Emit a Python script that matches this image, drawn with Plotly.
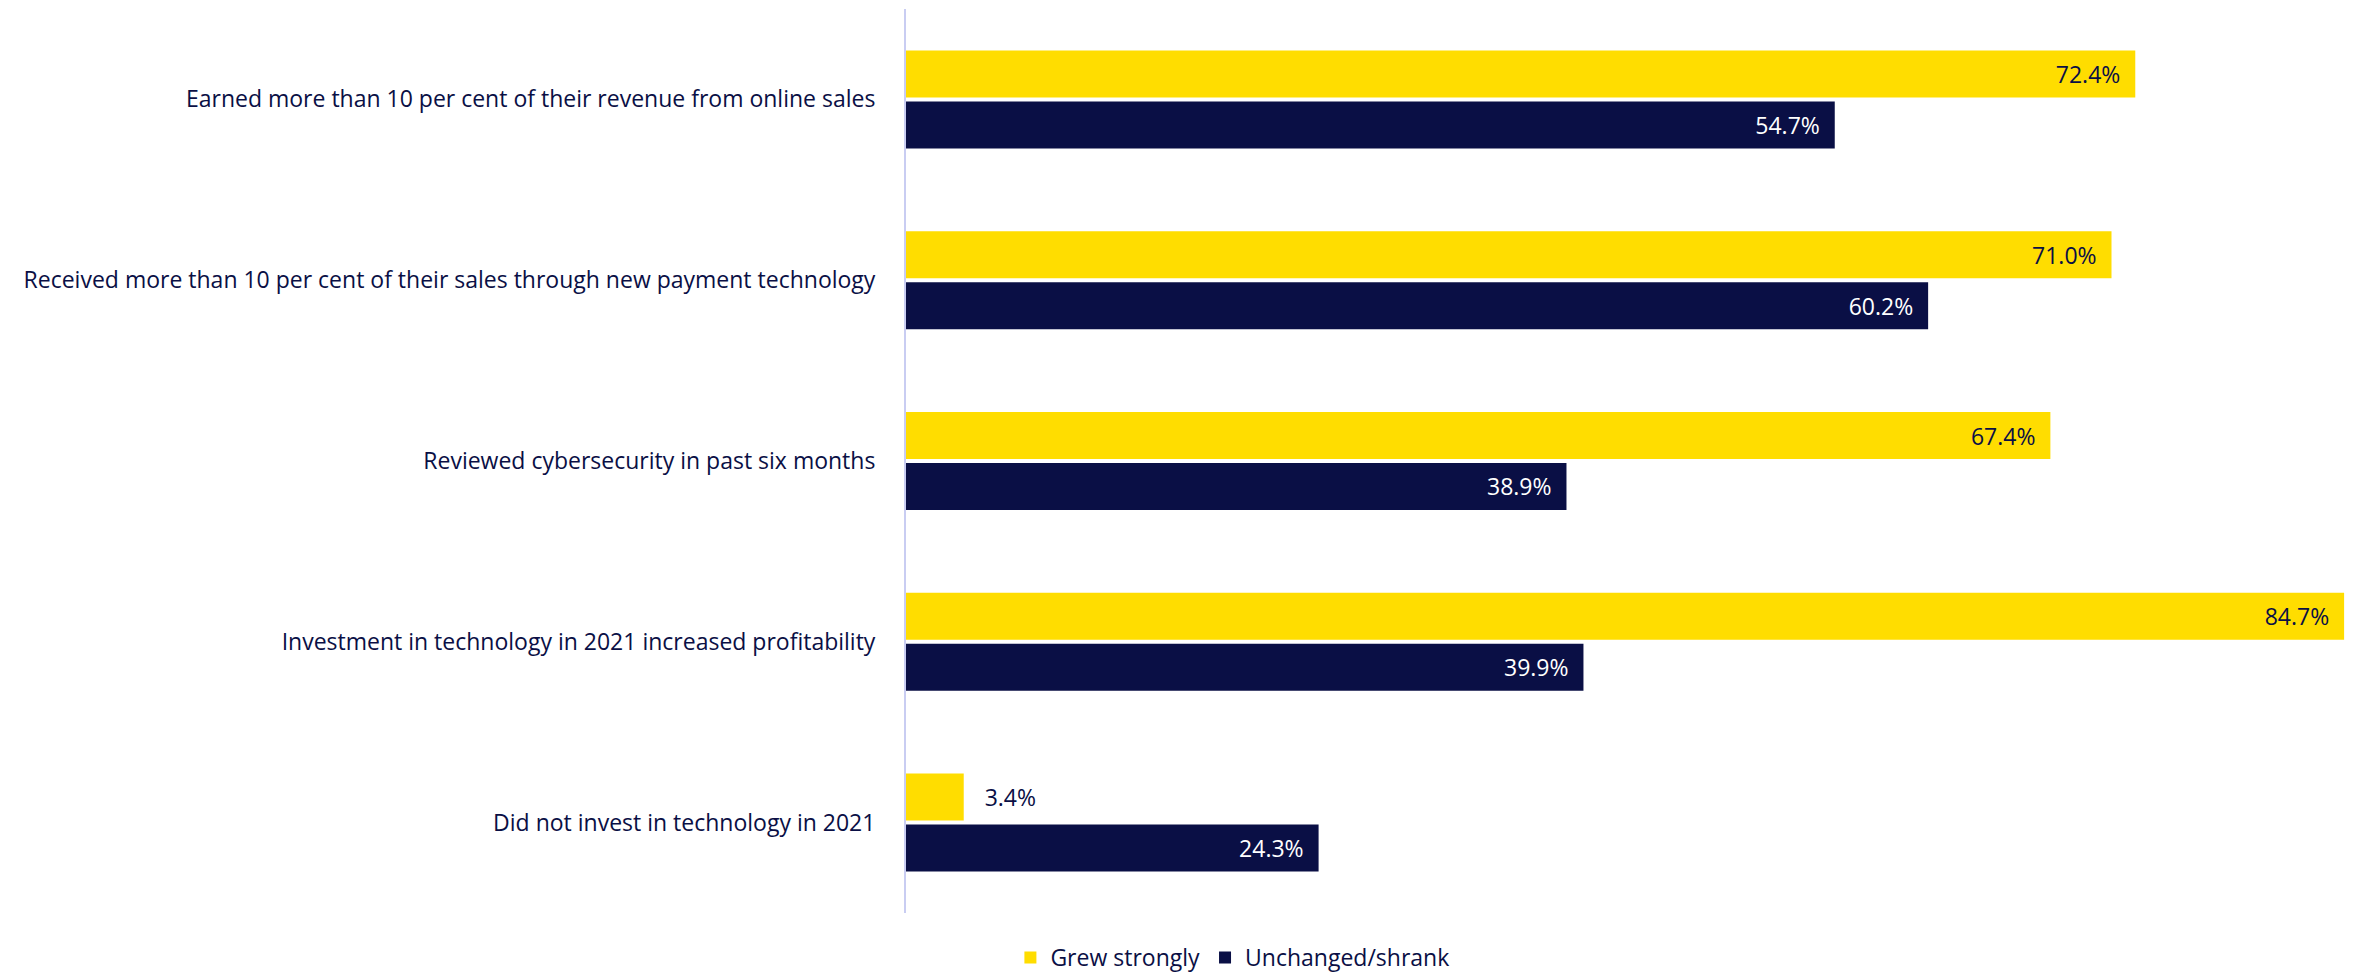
import plotly.graph_objects as go

# Survey categories (top to bottom)
categories = [
    "Earned more than 10 per cent of their revenue from online sales",
    "Received more than 10 per cent of their sales through new payment technology",
    "Reviewed cybersecurity in past six months",
    "Investment in technology in 2021 increased profitability",
    "Did not invest in technology in 2021",
]

grew_strongly = [72.4, 71.0, 67.4, 84.7, 3.4]
unchanged_shrank = [54.7, 60.2, 38.9, 39.9, 24.3]

YELLOW = "#FFDD00"
NAVY = "#0A0F45"
FONT = "Open Sans"
FS = 23

def labels(values, inside_min=10):
    out, pos = [], []
    for v in values:
        if v >= inside_min:
            out.append(f"{v:.1f}%\u00a0\u00a0")
            pos.append("inside")
        else:
            out.append(f"\u00a0\u00a0\u00a0{v:.1f}%")
            pos.append("outside")
    return out, pos

g_text, g_pos = labels(grew_strongly)
u_text, u_pos = labels(unchanged_shrank)

fig = go.Figure()
fig.add_trace(go.Bar(
    name="Grew strongly", y=categories, x=grew_strongly, orientation="h",
    marker=dict(color=YELLOW, line=dict(width=0)),
    text=g_text, textposition=g_pos, insidetextanchor="end",
    insidetextfont=dict(color=NAVY, size=FS, family=FONT),
    outsidetextfont=dict(color=NAVY, size=FS, family=FONT),
    cliponaxis=False,
))
fig.add_trace(go.Bar(
    name="Unchanged/shrank", y=categories, x=unchanged_shrank, orientation="h",
    marker=dict(color=NAVY, line=dict(width=0)),
    text=u_text, textposition=u_pos, insidetextanchor="end",
    insidetextfont=dict(color="white", size=FS, family=FONT),
    outsidetextfont=dict(color=NAVY, size=FS, family=FONT),
    cliponaxis=False,
))

fig.update_layout(
    width=2356, height=979,
    margin=dict(l=906, r=0, t=9, b=66, autoexpand=False),
    paper_bgcolor="white", plot_bgcolor="white",
    barmode="group", bargap=0.436, bargroupgap=0.078,
    font=dict(family=FONT, size=FS, color=NAVY),
    uniformtext=dict(minsize=FS, mode="show"),
    showlegend=True,
    legend=dict(
        orientation="h", x=0.072, xanchor="left",
        yref="container", y=0.0, yanchor="bottom",
        font=dict(size=FS, color=NAVY, family=FONT),
        itemsizing="constant", traceorder="normal",
    ),
)
fig.update_xaxes(
    range=[0, 85.4], showgrid=False, zeroline=False, showticklabels=False,
    showline=False, fixedrange=True,
)
fig.update_yaxes(
    autorange="reversed", showgrid=False, zeroline=False,
    showline=True, linecolor="#C9CDF2", linewidth=2,
    ticks="", ticklabelstandoff=24,
    tickfont=dict(size=FS, color=NAVY, family=FONT),
)

fig.write_html("out.html")
